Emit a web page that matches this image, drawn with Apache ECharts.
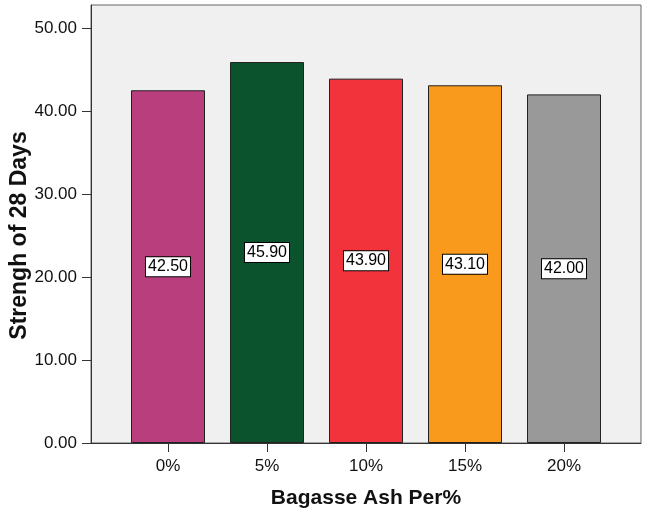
<!DOCTYPE html>
<html><head><meta charset="utf-8">
<script src="https://cdn.jsdelivr.net/npm/echarts@6/dist/echarts.min.js"></script>
<style>html,body{margin:0;padding:0;background:#fff}#c{width:645px;height:512px}</style>
</head><body><div id="c"></div>
<script>
var categories = ['0%', '5%', '10%', '15%', '20%'];
var values = [42.50, 45.90, 43.90, 43.10, 42.00];
var barColors = ['#b83e7d', '#0b532d', '#f2333b', '#f99a1c', '#999999'];

var chart = echarts.init(document.getElementById('c'), null, {renderer: 'canvas'});
var font = 'Liberation Sans, Arial, sans-serif';
var data = values.map(function (v, i) {
  return {value: v, itemStyle: {color: barColors[i]}};
});
chart.setOption({
  animation: false,
  grid: [
    {left: 91, right: 4, top: 5, bottom: 69, show: true, backgroundColor: '#f0f0f0', borderColor: '#666', borderWidth: 1,
      containLabel: false, outerBoundsMode: 'none'},
    {left: 118.5, right: 31.5, top: 28, bottom: 69, containLabel: false, outerBoundsMode: 'none'}
  ],
  xAxis: [
    {gridIndex: 0, type: 'category', data: [''],
      axisLine: {show: true, lineStyle: {color: '#333', width: 1}},
      axisTick: {show: false}, axisLabel: {show: false}, splitLine: {show: false}},
    {gridIndex: 1, type: 'category', data: categories,
      name: 'Bagasse Ash Per%', nameLocation: 'middle', nameGap: 45, nameMoveOverlap: false,
      nameTextStyle: {fontFamily: font, fontSize: 21, fontWeight: 'bold', color: '#111'},
      axisLine: {show: false},
      axisTick: {show: true, alignWithLabel: true, length: 9, lineStyle: {color: '#333'}},
      axisLabel: {margin: 15, fontFamily: font, fontSize: 17, color: '#111'},
      splitLine: {show: false}}
  ],
  yAxis: [
    {gridIndex: 0, type: 'value', min: 0, max: 1,
      axisLine: {show: true, lineStyle: {color: '#333', width: 1}},
      axisTick: {show: false}, axisLabel: {show: false}, splitLine: {show: false}},
    {gridIndex: 1, type: 'value', min: 0, max: 50, interval: 10, offset: 27.5,
      name: 'Strengh of 28 Days', nameLocation: 'middle', nameGap: 60, nameRotate: 90, nameMoveOverlap: false,
      nameTextStyle: {fontFamily: font, fontSize: 23, fontWeight: 'bold', color: '#111'},
      axisLine: {show: false},
      axisTick: {show: true, length: 9, lineStyle: {color: '#333'}},
      axisLabel: {margin: 14, fontFamily: font, fontSize: 17, color: '#111',
        formatter: function (v) { return v.toFixed(2); }},
      splitLine: {show: false}}
  ],
  series: [{
    type: 'bar',
    xAxisIndex: 1, yAxisIndex: 1,
    data: data,
    barWidth: 74,
    itemStyle: {borderColor: '#222', borderWidth: 1},
    label: {
      show: true, position: 'inside',
      formatter: function (p) { return p.value.toFixed(2); },
      fontFamily: font, fontSize: 16, color: '#000',
      backgroundColor: '#fff', borderColor: '#000', borderWidth: 1,
      padding: [2, 2, 1, 2]
    }
  }]
});
</script></body></html>
